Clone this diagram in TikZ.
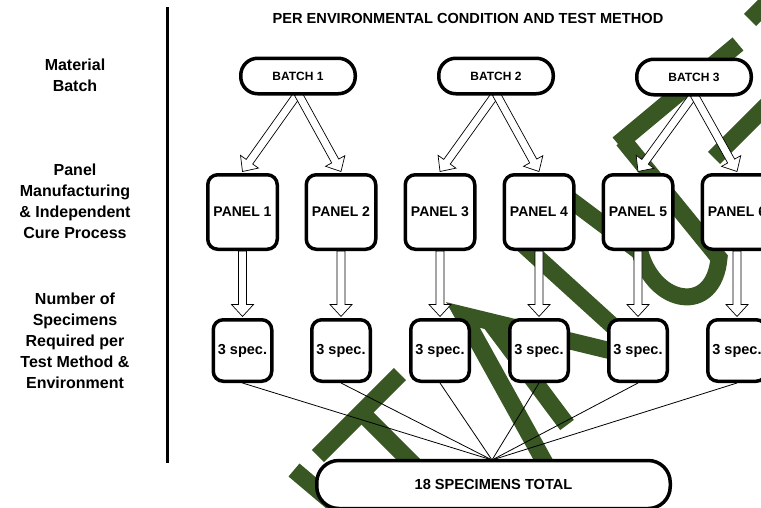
\documentclass[tikz,border=0pt]{standalone}
\usepackage{fontspec}
\setmainfont{Liberation Sans}
\usetikzlibrary{calc}
\definecolor{wmgreen}{RGB}{56,87,35}
\pgfdeclarelayer{wm}
\pgfdeclarelayer{links}
\pgfsetlayers{wm,links,main}
\newcommand\blockarrow[2]{%
  \coordinate (ba) at (#1);
  \coordinate (bb) at (#2);
  \coordinate (bc) at ($(bb)!12pt!(ba)$);
  \draw[arrowbody] ($(ba)!4pt!90:(bb)$) -- ($(bc)!4pt!90:(bb)$) -- ($(bc)!11pt!90:(bb)$) -- (bb) -- ($(bc)!11pt!-90:(bb)$) -- ($(bc)!4pt!-90:(bb)$) -- ($(ba)!4pt!-90:(bb)$) -- cycle;}
\begin{document}
\begin{tikzpicture}[x=1pt,y=-1pt,
  lbl/.style={align=center, font=\bfseries\fontsize{16}{21}\selectfont, inner sep=0pt},
  batchbox/.style={draw, line width=3.5pt, fill=white, rounded corners=17pt, minimum width=114.5pt, minimum height=35.5pt, inner sep=0pt, font=\bfseries\fontsize{12}{14}\selectfont},
  panelbox/.style={draw, line width=3.5pt, fill=white, rounded corners=10pt, minimum width=69.5pt, minimum height=74.5pt, inner sep=0pt, font=\bfseries\fontsize{14}{16}\selectfont},
  specbox/.style={draw, line width=3.5pt, fill=white, rounded corners=10pt, minimum width=58.5pt, minimum height=61.5pt, inner sep=0pt, font=\bfseries\fontsize{14.5}{16}\selectfont},
  totalbox/.style={draw, line width=3.5pt, fill=white, rounded corners=22pt, minimum width=353.5pt, minimum height=48pt, inner sep=0pt, font=\bfseries\fontsize{14.6}{17}\selectfont},
  arrowbody/.style={draw=black, line width=0.7pt, fill=white, line join=miter},
  spoke/.style={draw=black, line width=0.8pt},
  wmband/.style={draw=wmgreen, line width=17pt, line cap=butt, line join=miter}
]
\useasboundingbox (0,0) rectangle (761,507);

% title and row labels
\node[font=\bfseries\fontsize{14.6}{17}\selectfont, inner sep=0pt] (title) at (468,18) {PER ENVIRONMENTAL CONDITION AND TEST METHOD};
\node[lbl] (lmat) at (75,75.5) {Material\\Batch};
\node[lbl] (lpan) at (75,201.5) {Panel\\Manufacturing\\\& Independent\\Cure Process};
\node[lbl] (lnum) at (75,341) {Number of\\Specimens\\Required per\\Test Method \&\\Environment};
\coordinate (septop) at (167.5,7);
\coordinate (sepbot) at (167.5,463);
\draw[line width=2.5pt] (septop) -- (sepbot);

% batches
\node[batchbox] (b1) at (298,76) {BATCH 1};
\node[batchbox] (b2) at (496,76) {BATCH 2};
\node[batchbox] (b3) at (694,77) {BATCH 3};

% panels
\node[panelbox] (p1) at (242.5,212) {PANEL 1};
\node[panelbox] (p2) at (341,212) {PANEL 2};
\node[panelbox] (p3) at (440,212) {PANEL 3};
\node[panelbox] (p4) at (539,212) {PANEL 4};
\node[panelbox] (p5) at (638,212) {PANEL 5};
\node[panelbox] (p6) at (737,212) {PANEL 6};

% specimens
\node[specbox] (s1) at (242.5,350.5) {3 spec.};
\node[specbox] (s2) at (341,350.5) {3 spec.};
\node[specbox] (s3) at (440,350.5) {3 spec.};
\node[specbox] (s4) at (539,350.5) {3 spec.};
\node[specbox] (s5) at (638,350.5) {3 spec.};
\node[specbox] (s6) at (737,350.5) {3 spec.};

\node[totalbox] (tot) at (493.5,484.5) {18 SPECIMENS TOTAL};
\coordinate (conv) at (492,460);

% watermark
\begin{pgfonlayer}{wm}
\draw[wmband] (294,470) -- (352,519);
\draw[wmband] (318,456) -- (400,374);
\draw[wmband] (362,413) -- (420,471);
\draw[wmband] (550,472) -- (463,315) -- (628,355);
\draw[wmband] (490,322) -- (567,425);
\draw[wmband] (516,238) -- (626,338);
\draw[wmband] (568,198) -- (640,252) .. controls (654,305) and (714,316) .. (719,258) -- (623,140);
\draw[wmband] (618,144) -- (738,44);
\draw[wmband] (714,158) -- (775,97);
\draw[wmband] (750,20) -- (790,-20);
\end{pgfonlayer}

% connectors
\begin{pgfonlayer}{links}
\blockarrow{$(b1.south)+(0,-2)$}{$(p1.north)+(0,-1.5)$}
\blockarrow{$(b1.south)+(0,-2)$}{$(p2.north)+(0,-1.5)$}
\blockarrow{$(b2.south)+(0,-2)$}{$(p3.north)+(0,-1.5)$}
\blockarrow{$(b2.south)+(0,-2)$}{$(p4.north)+(0,-1.5)$}
\blockarrow{$(b3.south)+(0,-2)$}{$(p5.north)+(0,-1.5)$}
\blockarrow{$(b3.south)+(0,-2)$}{$(p6.north)+(0,-1.5)$}
\foreach \i in {1,...,6}{
  \blockarrow{p\i.south}{$(s\i.north)+(0,-1.5)$}
  \draw[spoke] (s\i.south) -- (conv);
}
\end{pgfonlayer}
\end{tikzpicture}
\end{document}
